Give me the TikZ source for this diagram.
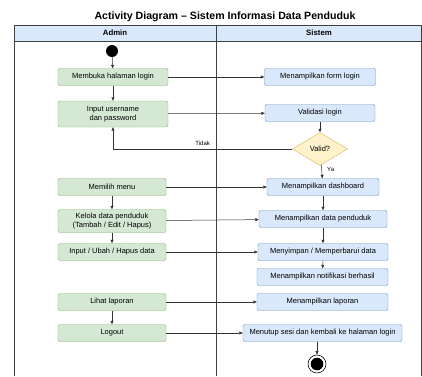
\documentclass[tikz,border=0pt]{standalone}
\usepackage{fontspec}
\setmainfont{Liberation Sans}
\usetikzlibrary{shapes.geometric,arrows.meta}

\definecolor{hijauisi}{HTML}{D5E8D4}
\definecolor{hijaugaris}{HTML}{82B366}
\definecolor{biruisi}{HTML}{DAE8FC}
\definecolor{birugaris}{HTML}{6C8EBF}
\definecolor{kuningisi}{HTML}{FFF2CC}
\definecolor{kuninggaris}{HTML}{D6B656}

\begin{document}
\begin{tikzpicture}[x=1pt,y=-1pt,
  kotak/.style={rounded corners=2pt,align=center,inner sep=0pt,font=\fontsize{7.5}{8.6}\selectfont,minimum height=17},
  admin/.style={kotak,draw=hijaugaris,fill=hijauisi},
  sistem/.style={kotak,draw=birugaris,fill=biruisi},
  keputusan/.style={diamond,draw=kuninggaris,fill=kuningisi,aspect=1.67,inner sep=0pt,minimum width=55,minimum height=33,font=\fontsize{7.5}{8.6}\selectfont},
  alur/.style={-{Triangle[length=3.5pt,width=3pt]},draw=black!80,line width=0.5pt},
  label/.style={font=\fontsize{6}{7}\selectfont}]

\useasboundingbox (0,0) rectangle (422,376);

% lajur
\fill[biruisi] (14,25) rectangle (421,41);
\draw[black!75,line width=0.6pt] (14,376)--(14,25)--(421,25)--(421,376);
\draw[black!75,line width=0.6pt] (14,41)--(421,41);
\draw[black!75,line width=0.6pt] (216,25)--(216,376);

\node[font=\fontsize{10.6}{12}\selectfont\bfseries] (judul) at (225,17) {Activity Diagram – Sistem Informasi Data Penduduk};
\node[font=\fontsize{7.8}{9}\selectfont\bfseries] (lajuradmin) at (115,33) {Admin};
\node[font=\fontsize{7.8}{9}\selectfont\bfseries] (lajursistem) at (319,33) {Sistem};

% admin
\node[circle,fill=black,minimum size=12,inner sep=0pt] (mulai) at (112,51) {};
\node[admin,minimum width=110] (buka) at (113,77) {Membuka halaman login};
\node[admin,minimum width=110,minimum height=26] (input) at (113,114) {Input username\\dan password};
\node[admin,minimum width=108] (menu) at (112,187) {Memilih menu};
\node[admin,minimum width=108,minimum height=23] (kelola) at (112,221) {Kelola data penduduk\\(Tambah / Edit / Hapus)};
\node[admin,minimum width=108] (ubah) at (112,252) {Input / Ubah / Hapus data};
\node[admin,minimum width=108] (lihat) at (112,302) {Lihat laporan};
\node[admin,minimum width=108] (logout) at (112,333) {Logout};

% sistem
\node[sistem,minimum width=111] (form) at (320,77) {Menampilkan form login};
\node[sistem,minimum width=110] (validasi) at (320,113) {Validasi login};
\node[keputusan] (valid) at (320,149) {Valid?};
\node[sistem,minimum width=112] (dashboard) at (323,187) {Menampilkan dashboard};
\node[sistem,minimum width=128] (tampil) at (323,219) {Menampilkan data penduduk};
\node[sistem,minimum width=130] (simpan) at (323,252) {Menyimpan / Memperbarui data};
\node[sistem,minimum width=131] (notif) at (322.5,277) {Menampilkan notifikasi berhasil};
\node[sistem,minimum width=131] (laporan) at (322.5,302) {Menampilkan laporan};
\node[sistem,minimum width=159] (tutup) at (322.5,333) {Menutup sesi dan kembali ke halaman login};
\node[circle,draw=black,line width=0.6pt,fill=white,minimum size=18,inner sep=0pt] (selesai) at (317,364) {};
\fill[black] (selesai) circle (6.3);

% alur
\draw[alur] (mulai)--(buka);
\draw[alur] (buka)--(input);
\draw[alur] (buka)--(form);
\draw[alur] (input)--(validasi);
\draw[alur] (validasi)--(valid);
\draw[alur] (valid.west)-|(input.south) node[label,pos=0.25,above] {Tidak};
\draw[alur] (valid)--(dashboard) node[label,pos=0.35,right=2pt] {Ya};
\draw[alur] (menu)--(dashboard);
\draw[alur] (menu)--(kelola);
\draw[alur] (kelola)--(ubah);
\draw[alur] (kelola)--(tampil);
\draw[alur] (dashboard)--(tampil);
\draw[alur] (tampil)--(simpan);
\draw[alur] (ubah)--(simpan);
\draw[alur] (simpan)--(notif);
\draw[alur] (lihat)--(laporan);
\draw[alur] (lihat)--(logout);
\draw[alur] (logout)--(tutup);
\draw[alur] (tutup.south -| selesai)--(selesai);

\end{tikzpicture}
\end{document}
